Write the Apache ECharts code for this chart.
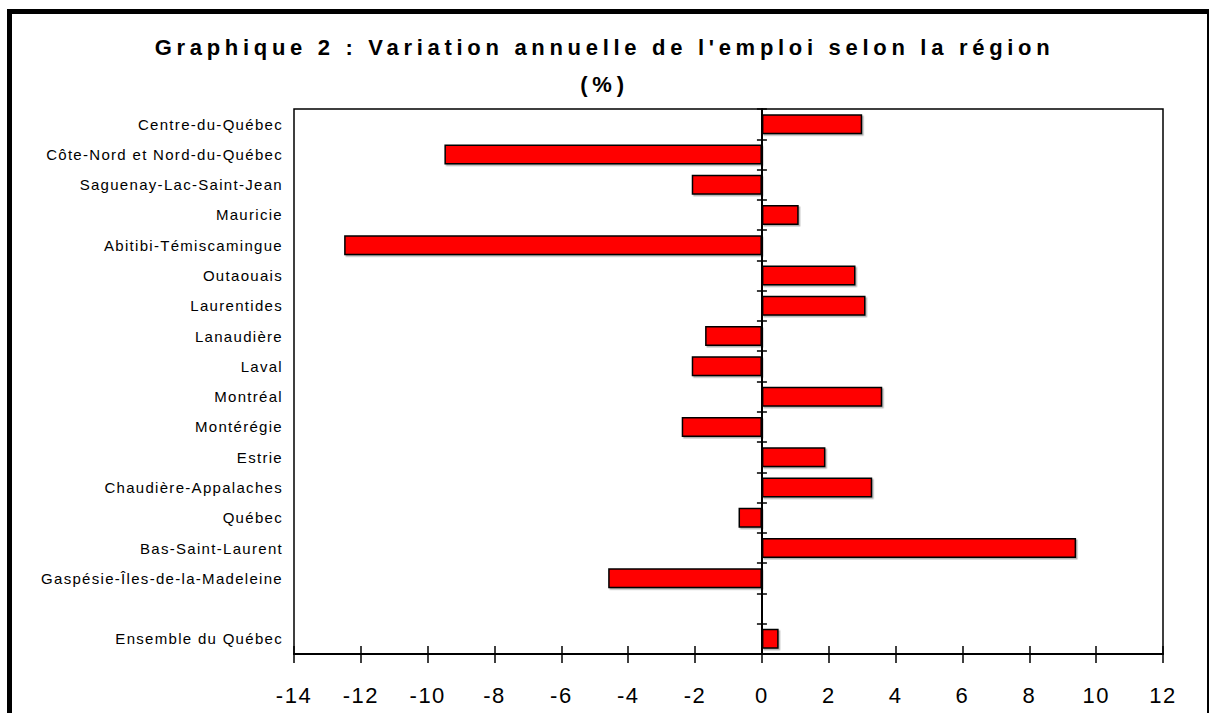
<!DOCTYPE html>
<html>
<head>
<meta charset="utf-8">
<script src="https://cdn.jsdelivr.net/npm/echarts@6/dist/echarts.min.js"></script>
<style>
  html, body { margin: 0; padding: 0; background: #fff; }
  #chart { width: 1209px; height: 713px; }
</style>
</head>
<body>
<div id="chart"></div>
<script>
// regions, top to bottom ("" = empty slot before the total)
const regions = [
  "Centre-du-Québec",
  "Côte-Nord et Nord-du-Québec",
  "Saguenay-Lac-Saint-Jean",
  "Mauricie",
  "Abitibi-Témiscamingue",
  "Outaouais",
  "Laurentides",
  "Lanaudière",
  "Laval",
  "Montréal",
  "Montérégie",
  "Estrie",
  "Chaudière-Appalaches",
  "Québec",
  "Bas-Saint-Laurent",
  "Gaspésie-Îles-de-la-Madeleine",
  "",
  "Ensemble du Québec"
];
const variation = [3.0, -9.5, -2.1, 1.1, -12.5, 2.8, 3.1, -1.7, -2.1, 3.6, -2.4, 1.9, 3.3, -0.7, 9.4, -4.6, null, 0.5];
const xTicks = [-14, 12, 2];

const chart = echarts.init(document.getElementById("chart"), null, { renderer: "svg" });

const titleStyle = {
  fontFamily: "Liberation Sans, Arial, sans-serif",
  fontSize: 22,
  fontWeight: "bold",
  color: "#000"
};

// the original uses wide letter spacing; svg text takes it as an attribute
function spaceLetters() {
  document.querySelectorAll("#chart svg text").forEach(function (t) {
    const s = t.textContent;
    let ls = "1.5px";
    if (s.indexOf("Graphique") >= 0 || s === "(%)") {
      ls = "4.7px";
    } else if (regions.indexOf(s) >= 0) {
      ls = "1.3px";
    }
    t.setAttribute("letter-spacing", ls);
  });
}

chart.on("finished", spaceLetters);

chart.setOption({
  animation: false,
  title: [
    {
      text: "Graphique 2 : Variation annuelle de l'emploi selon la région",
      left: "center",
      top: 36,
      padding: 0,
      textStyle: titleStyle
    },
    {
      text: "(%)",
      left: "center",
      top: 73,
      padding: 0,
      textStyle: titleStyle
    }
  ],
  graphic: [
    {
      type: "rect",
      shape: { x: 9.5, y: 11.5, width: 1200, height: 720 },
      style: { fill: null, stroke: "#000", lineWidth: 5 },
      silent: true
    }
  ],
  grid: {
    left: 294,
    right: 46,
    top: 109,
    bottom: 59,
    show: true,
    borderColor: "#000",
    borderWidth: 1.5
  },
  xAxis: [
    {
      type: "value",
      min: xTicks[0],
      max: xTicks[1],
      interval: xTicks[2],
      splitLine: { show: false },
      axisLine: { show: true, lineStyle: { color: "#000", width: 2 } },
      axisTick: { show: true, length: 9, lineStyle: { color: "#000", width: 1.5 } },
      axisLabel: {
        margin: 30,
        fontFamily: "Liberation Sans, Arial, sans-serif",
        fontSize: 22,
        color: "#000"
      }
    },
    {
      type: "value",
      position: "bottom",
      min: xTicks[0],
      max: xTicks[1],
      interval: xTicks[2],
      splitLine: { show: false },
      axisLine: { show: false },
      axisTick: { show: true, inside: true, length: 8, lineStyle: { color: "#000", width: 1.5 } },
      axisLabel: { show: false }
    }
  ],
  yAxis: [
    {
      type: "category",
      inverse: true,
      data: regions,
      axisLine: { show: false, onZero: false },
      axisTick: { show: false },
      axisLabel: {
        margin: 11,
        fontFamily: "Liberation Sans, Arial, sans-serif",
        fontSize: 15,
        color: "#000"
      }
    },
    {
      type: "category",
      inverse: true,
      data: regions,
      axisLine: { show: true, onZero: true, lineStyle: { color: "#000", width: 2 } },
      axisTick: { show: true, length: 5, lineStyle: { color: "#000", width: 1.5 } },
      axisLabel: { show: false }
    },
    {
      type: "category",
      inverse: true,
      data: regions,
      axisLine: { show: false, onZero: true },
      axisTick: { show: true, inside: true, length: 5, lineStyle: { color: "#000", width: 1.5 } },
      axisLabel: { show: false }
    }
  ],
  series: [
    {
      type: "bar",
      xAxisIndex: 0,
      yAxisIndex: 0,
      data: variation,
      barCategoryGap: "34%",
      itemStyle: {
        color: "#ff0000",
        borderColor: "#000",
        borderWidth: 1.5,
        shadowColor: "rgba(0,0,0,0.3)",
        shadowOffsetX: 1.5,
        shadowOffsetY: 1.5
      }
    }
  ]
});

setTimeout(spaceLetters, 0);
</script>
</body>
</html>
